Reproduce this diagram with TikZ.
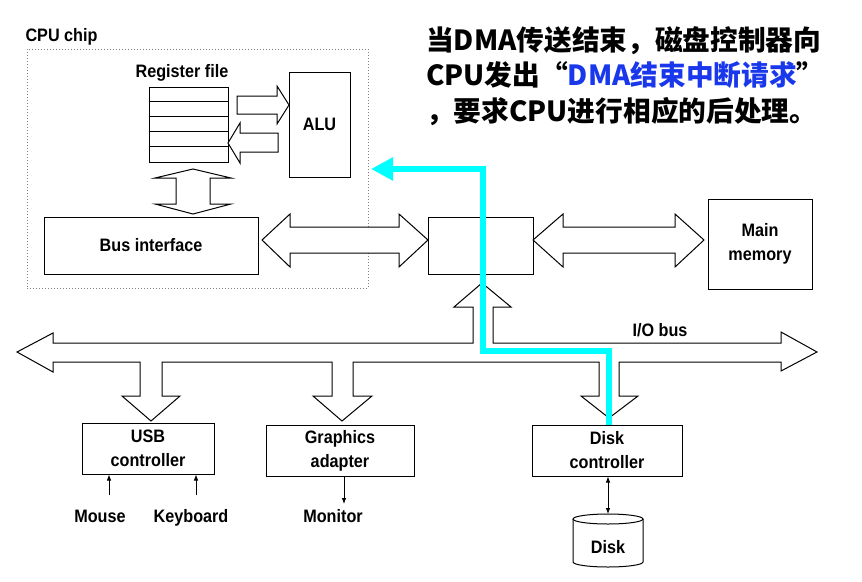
\documentclass[tikz,border=0pt]{standalone}
\usepackage{fontspec}
\newfontfamily\lblfont{Liberation Sans}[FakeStretch=0.9]
\newfontfamily\cjkfont{Noto Sans CJK SC}
\usetikzlibrary{arrows.meta}
\definecolor{dmablue}{RGB}{25,55,235}
\definecolor{dmacyan}{RGB}{0,255,255}

\begin{document}
\begin{tikzpicture}[x=1pt,y=-1pt,
    lbl/.style={font=\lblfont\bfseries\fontsize{18}{24}\selectfont, align=center},
    dev/.style={lbl, anchor=north, inner sep=0pt, text height=13pt, text depth=0pt},
    part/.style={draw, line width=1pt, lbl, inner sep=0pt},
    fat/.style={draw, line width=1pt, fill=white, line join=miter},
    ptr/.style={line width=0.8pt, -{Latex[length=6pt,width=4.5pt]}},
    dma/.style={dmacyan, line width=6pt, line join=miter, -{Triangle[length=22pt,width=22pt]}}]
\useasboundingbox (0,0) rectangle (862,581);

\node[draw, dotted, gray, line width=1pt, minimum width=341pt, minimum height=239pt] (chip) at (197.5,168.5) {};
\node[lbl, anchor=west] (chiplabel) at (22,37) {CPU chip};
\node[lbl] (reglabel) at (182,73) {Register file};
\node[part, minimum width=79pt, minimum height=75pt] (regfile) at (188.5,124.5) {};
\foreach \r in {1,...,4}
    \draw[line width=1pt] ([yshift=-15*\r pt]regfile.north west) -- ([yshift=-15*\r pt]regfile.north east);
\node[part, minimum width=61pt, minimum height=105pt] (alu) at (319.5,124.5) {ALU};
\node[part, minimum width=214pt, minimum height=57pt] (busif) at (151,245.5) {Bus interface};
\node[part, minimum width=105pt, minimum height=57pt] (bridge) at (480.5,245.5) {};
\node[part, minimum width=104pt, minimum height=90pt] (mem) at (760,244) {Main\\memory};
\node[part, minimum width=132pt, minimum height=51pt] (usb) at (148,448.5) {USB\\controller};
\node[part, minimum width=148pt, minimum height=51pt] (gfx) at (340,450.5) {Graphics\\adapter};
\node[part, minimum width=150pt, minimum height=51pt] (diskc) at (607,450.5) {Disk\\controller};

\draw[fat] (237,96) -- (277,96) -- (277,86) -- (289,105) -- (277,124) -- (277,114) -- (237,114) -- cycle;
\draw[fat] (278,133) -- (240,133) -- (240,123) -- (228,143) -- (240,163) -- (240,152) -- (278,152) -- cycle;
\draw[fat] (193,169) -- (231,178) -- (210,178) -- (210,204) -- (231,204) -- (193,214) -- (155,204) -- (176,204) -- (176,178) -- (155,178) -- cycle;
\draw[fat] (262,240) -- (290,214) -- (290,227) -- (399,227) -- (399,214) -- (428,240) -- (399,267) -- (399,253) -- (290,253) -- (290,267) -- cycle;
\draw[fat] (533,240) -- (563,214) -- (563,227) -- (675,227) -- (675,214) -- (704,240) -- (675,267) -- (675,253) -- (563,253) -- (563,267) -- cycle;

\draw[fat] (17,352) -- (53,333) -- (53,343) -- (473,343) -- (473,307) -- (454,307) -- (482,283) -- (511,307) -- (493,307) -- (493,343)
    -- (781,343) -- (781,332) -- (817,352) -- (781,371) -- (781,362)
    -- (619,362) -- (619,396) -- (638,396) -- (609,418) -- (581,396) -- (599,396) -- (599,362)
    -- (353,362) -- (353,396) -- (372,396) -- (342,421) -- (313,396) -- (332,396) -- (332,362)
    -- (162,362) -- (162,396) -- (180,396) -- (151,421) -- (122,396) -- (140,396) -- (140,362)
    -- (53,362) -- (53,372) -- cycle;
\node[lbl] (iobus) at (660,330) {I/O bus};

\node[dev] (mouse) at (100,509) {Mouse};
\node[dev] (kbd) at (191,509) {Keyboard};
\node[dev] (monitor) at (333,509) {Monitor};
\draw[ptr] ([xshift=9pt,yshift=14pt]mouse.north) -- ([xshift=-39pt]usb.south);
\draw[ptr] ([xshift=5pt,yshift=14pt]kbd.north) -- ([xshift=48pt]usb.south);
\draw[ptr] ([xshift=4pt]gfx.south) -- ([xshift=11pt,yshift=5pt]monitor.north);

\draw[line width=1pt, fill=white] (573,519) -- (573,562) arc[start angle=180, end angle=0, x radius=35, y radius=5] -- (643,519);
\draw[line width=1pt] (608,519) ellipse[x radius=35, y radius=5];
\coordinate (disktop) at (608,514);
\node[lbl] (disk) at (608,547) {Disk};
\draw[ptr, {Latex[length=6pt,width=4.5pt]}-{Latex[length=6pt,width=4.5pt]}] ([xshift=1pt]diskc.south) -- (disktop);

\coordinate (dmaend) at (371,169);
\draw[dma] ([xshift=2pt]diskc.north) -- ++(0,-74) -| (483,169) -- (dmaend);

\node[font=\cjkfont\bfseries\fontsize{27.7}{35.5}\selectfont, align=left, anchor=north west, inner sep=0pt] (note) at (426,26)
    {当DMA传送结束，磁盘控制器向\\CPU发出“\textcolor{dmablue}{DMA结束中断请求}”\\，要求CPU进行相应的后处理。};
\end{tikzpicture}
\end{document}
